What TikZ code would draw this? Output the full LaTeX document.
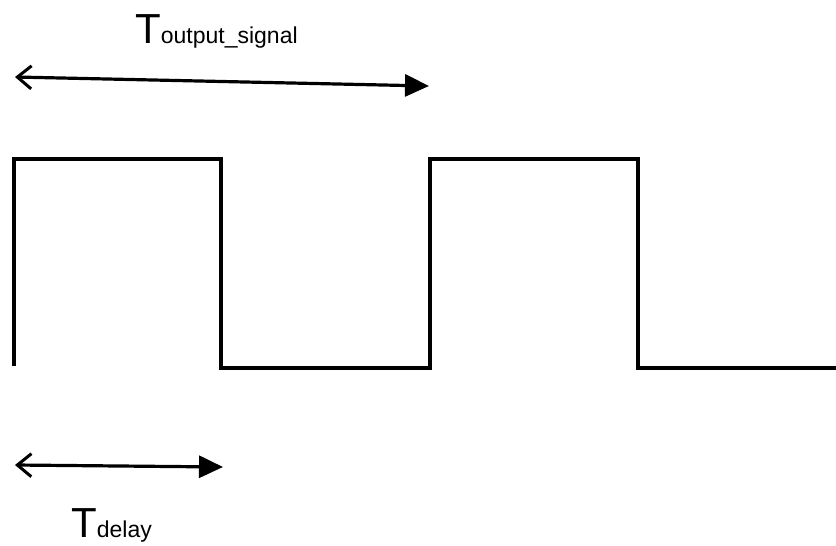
\documentclass[tikz,border=0pt]{standalone}
\usepackage{fontspec}
\setmainfont{Liberation Sans}
\usetikzlibrary{arrows.meta}
\begin{document}
\begin{tikzpicture}[x=1pt,y=-1pt,
  wave/.style={line width=3.8pt, line join=miter, black},
  span/.style={line width=3.2pt, black,
    {Straight Barb[length=14pt,width=23pt,line width=3pt]}-{Triangle[length=24pt,width=22pt]}},
  lbl/.style={inner sep=0pt, anchor=base west}]
\useasboundingbox (0,0) rectangle (836,546);
% square wave
\draw[wave] (14,366) -- (14,159) -- (221,159) -- (221,368) -- (430,368)
  -- (430,159) -- (638,159) -- (638,368) -- (836,368);
% period arrow
\coordinate (pa) at (15,77);
\coordinate (pb) at (429,86);
\draw[span] (pa) -- (pb);
% delay arrow
\coordinate (da) at (15,465);
\coordinate (db) at (223,467);
\draw[span] (da) -- (db);
% labels
\node[lbl] (tout) at (135,43) {\fontsize{42}{42}\selectfont T\fontsize{23}{23}\selectfont output\_signal};
\node[lbl] (tdel) at (71,537) {\fontsize{42}{42}\selectfont T\fontsize{23}{23}\selectfont delay};
\end{tikzpicture}
\end{document}
